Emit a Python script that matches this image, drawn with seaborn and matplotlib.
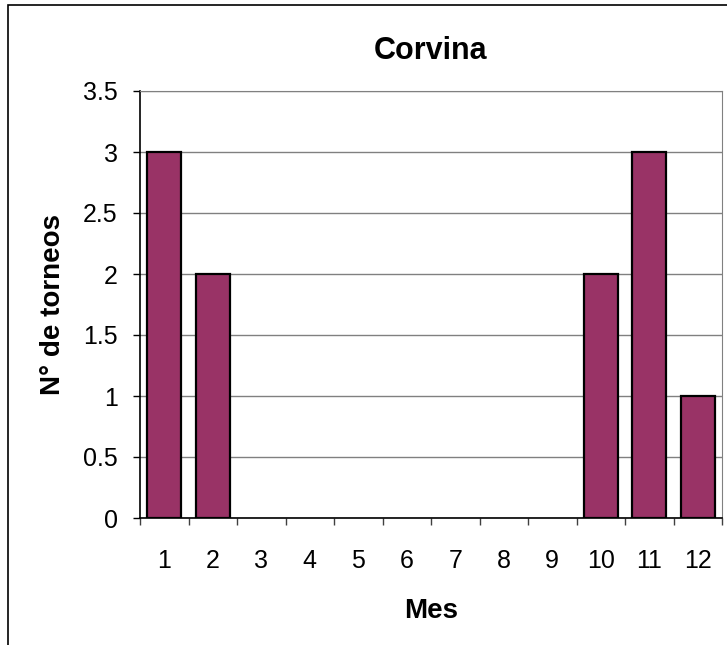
import numpy as np
import pandas as pd
import matplotlib
matplotlib.use("Agg")
import matplotlib.pyplot as plt
import seaborn as sns
from matplotlib.patches import Rectangle

meses = ["1", "2", "3", "4", "5", "6", "7", "8", "9", "10", "11", "12"]
torneos = [3, 2, 0, 0, 0, 0, 0, 0, 0, 2, 3, 1]
y_ticks = [0, 0.5, 1, 1.5, 2, 2.5, 3, 3.5]
y_labels = ["0", "0.5", "1", "1.5", "2", "2.5", "3", "3.5"]

sns.set_style("white")
plt.rcParams["font.family"] = ["Liberation Sans", "DejaVu Sans"]
plt.rcParams["text.color"] = "black"
plt.rcParams["axes.labelcolor"] = "black"
plt.rcParams["xtick.color"] = "black"
plt.rcParams["ytick.color"] = "black"

df = pd.DataFrame({"Mes": meses, "Torneos": torneos})

fig = plt.figure(figsize=(7.27, 6.45), dpi=100)
ax = fig.add_axes([140 / 727, 1 - 518 / 645, (722 - 140) / 727, (518 - 91) / 645])

# outer chart border (Excel style), cut off on right/bottom
fig.patches.append(Rectangle((8 / 727, -0.1), 1.2, 1 - 5 / 645 + 0.1,
                             transform=fig.transFigure, fill=False,
                             edgecolor="black", linewidth=1.2))

sns.barplot(data=df, x="Mes", y="Torneos", color="#993366", edgecolor="black",
            linewidth=1.6, width=0.7, saturation=1, ax=ax, zorder=3)
# empty months: no outline
for bar in ax.patches:
    if bar.get_height() == 0:
        bar.set_linewidth(0)

ax.set_xlim(-0.5, len(meses) - 0.5)
ax.set_ylim(0, 3.5)
ax.set_yticks(y_ticks)
ax.set_yticklabels(y_labels)
ax.yaxis.grid(True, color="#808080", linewidth=1.0, zorder=0)
ax.set_axisbelow(True)

# ticks between categories
ax.set_xticks(np.arange(-0.5, len(meses), 1.0), minor=True)
ax.tick_params(axis="x", which="major", length=0, pad=22, labelsize=18)
ax.tick_params(axis="x", which="minor", length=5, width=1.0, color="#404040",
               direction="out", bottom=True)
ax.tick_params(axis="y", length=5, width=1.0, color="black", direction="out",
               left=True, pad=11, labelsize=18)

for side in ["left", "bottom"]:
    ax.spines[side].set_color("black")
    ax.spines[side].set_linewidth(1.2)
ax.spines["right"].set_color("#808080")
ax.spines["top"].set_color("#808080")

ax.set_title("Corvina", fontsize=22, fontweight="bold", pad=23)
ax.set_xlabel("Mes", fontsize=20, fontweight="bold", labelpad=18)
ax.set_ylabel("N° de torneos", fontsize=20, fontweight="bold", labelpad=12)

fig.savefig("out.png", dpi=100)
